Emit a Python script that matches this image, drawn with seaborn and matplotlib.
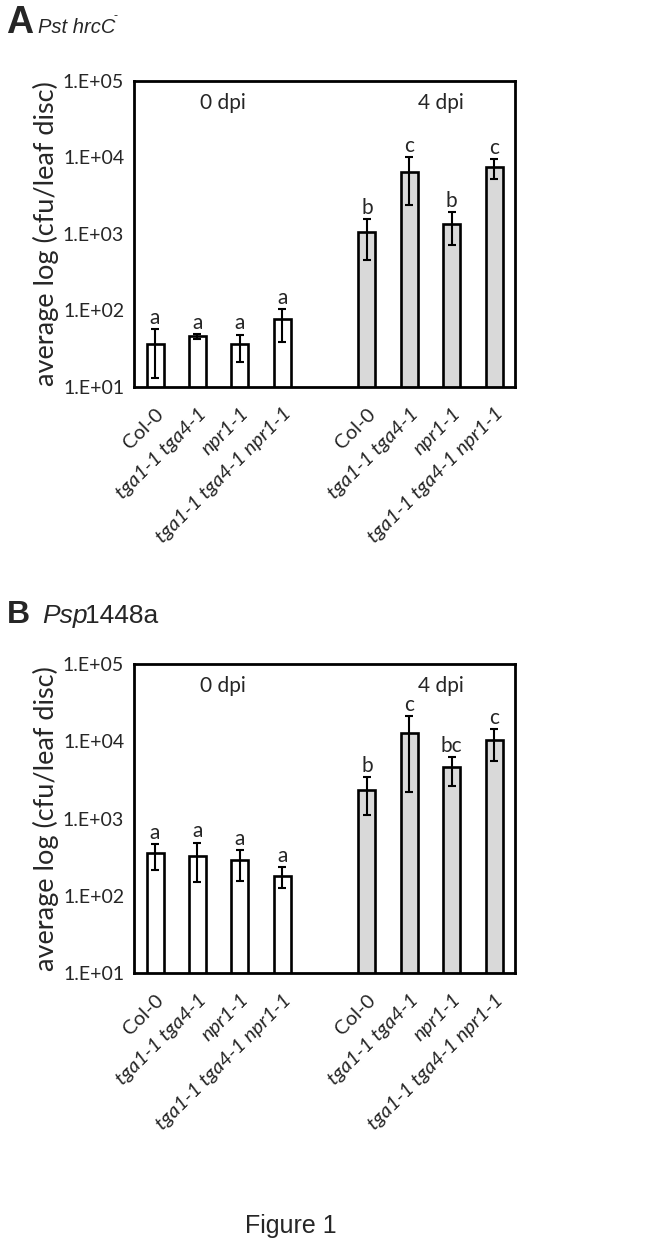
"""
    Bacterial growth in leaf discs, Figure 1 (panels A and B)
"""

import numpy as np
import pandas as pd
import seaborn as sns
import matplotlib.pyplot as plt
from matplotlib.ticker import FixedLocator, FuncFormatter, NullLocator


# DATA
genotypes = ["Col-0", "tga1-1 tga4-1", "npr1-1", "tga1-1 tga4-1 npr1-1"]
times = ["0 dpi", "4 dpi"]

# Panel A - Pst hrcC-  (0 dpi x4, then 4 dpi x4)
a_mean = [36, 46, 36, 77, 1050, 6400, 1350, 7580]
a_hi = [57, 49, 48, 103, 1570, 10000, 1940, 9460]
a_lo = [13, 42, 21.4, 39, 457, 2390, 718, 5190]
a_letters = ["a", "a", "a", "a", "b", "c", "b", "c"]

# Panel B - Psp1448a
b_mean = [361, 330, 290, 182, 2340, 12900, 4600, 10380]
b_hi = [464, 486, 391, 233, 3440, 21200, 6190, 14300]
b_lo = [215, 149, 157, 125, 1110, 2220, 2660, 5600]
b_letters = ["a", "a", "a", "a", "b", "c", "bc", "c"]

yticks = [1e1, 1e2, 1e3, 1e4, 1e5]

TICKFONT = "Lato"
TITLEFONT = "Liberation Sans"

# slots on the categorical axis: 4 genotypes, an empty gap, 4 genotypes
order = [times[0] + " " + g for g in genotypes] + ["gap"] + \
        [times[1] + " " + g for g in genotypes]


def makeFrame(mean, lo, hi, letters):
    rows = []
    for i, t in enumerate(times):
        for j, g in enumerate(genotypes):
            k = i * len(genotypes) + j
            rows.append({"slot": t + " " + g, "time": t, "genotype": g,
                         "cfu": mean[k], "lo": lo[k], "hi": hi[k],
                         "letter": letters[k]})
    return pd.DataFrame(rows)


def drawPanel(ax, df, xticks_marks):
    sns.barplot(data=df, x="slot", y="cfu", order=order, hue="time",
                hue_order=times, palette={"0 dpi": "white", "4 dpi": "#d9d9d9"},
                width=0.4, edgecolor="black", linewidth=1.9, dodge=False,
                legend=False, errorbar=None, ax=ax)
    ax.set_yscale("log")
    ax.set_ylim(1e1, 1e5)

    # error bars and significance letters
    pos = np.array([order.index(s) for s in df["slot"]])
    yerr = np.vstack([df["cfu"] - df["lo"], df["hi"] - df["cfu"]])
    ax.errorbar(pos, df["cfu"], yerr=yerr, fmt="none", ecolor="black",
                elinewidth=1.5, capsize=3.2, capthick=1.5, zorder=5)
    for x, top, lab in zip(pos, df["hi"], df["letter"]):
        ax.annotate(lab, (x, top), xytext=(0, 1.0), textcoords="offset points",
                    ha="center", va="bottom", fontsize=15, family=TICKFONT)

    # time point labels
    ax.text(1.6, 5.2e4, times[0], ha="center", va="center", fontsize=15,
            family=TICKFONT)
    ax.text(6.75, 5.2e4, times[1], ha="center", va="center", fontsize=15,
            family=TICKFONT)

    # y axis
    ax.yaxis.set_major_locator(FixedLocator(yticks))
    ax.yaxis.set_minor_locator(NullLocator())
    ax.yaxis.set_major_formatter(FuncFormatter(
        lambda v, p: "1.E+%02d" % int(round(np.log10(v)))))
    ax.tick_params(axis="y", which="major", length=5, width=1.6,
                   labelsize=14, direction="out", pad=2)
    for lab in ax.get_yticklabels():
        lab.set_family(TICKFONT)
    ax.set_ylabel("average log (cfu/leaf disc)", fontsize=19.5, family=TICKFONT,
                  labelpad=3)

    # x axis
    ax.set_xlim(-0.5, len(order) - 0.5)
    ax.set_xlabel("")
    ax.set_xticks(range(len(order)))
    ax.set_xticklabels(genotypes + [""] + genotypes, rotation=45, ha="right",
                       rotation_mode="anchor", fontsize=14.5, family=TICKFONT)
    for lab in ax.get_xticklabels():
        if lab.get_text() != "Col-0":
            lab.set_fontstyle("italic")
    ax.tick_params(axis="x", which="major", length=0, pad=13)
    if xticks_marks:
        ax.xaxis.set_minor_locator(FixedLocator(np.arange(-0.5, len(order), 1.0)))
        ax.tick_params(axis="x", which="minor", length=5, width=1.6,
                       direction="out")
    else:
        ax.xaxis.set_minor_locator(NullLocator())

    for s in ax.spines.values():
        s.set_visible(True)
        s.set_linewidth(2)
        s.set_color("black")


def plotFigure():
    sns.set_style("white")
    plt.rcParams["font.family"] = [TICKFONT, "DejaVu Sans"]

    fig = plt.figure(figsize=(6.53, 12.47), dpi=100)

    axA = fig.add_axes([0.205, 0.6897, 0.584, 0.2454])
    drawPanel(axA, makeFrame(a_mean, a_lo, a_hi, a_letters), False)

    axB = fig.add_axes([0.205, 0.2197, 0.584, 0.2478])
    drawPanel(axB, makeFrame(b_mean, b_lo, b_hi, b_letters), True)

    # panel headings
    fig.text(0.010, 0.9735, "A", fontsize=27, fontweight="bold",
             family=TITLEFONT, va="baseline")
    fig.text(0.058, 0.9735, "Pst hrcC", fontsize=14.5, fontstyle="italic",
             family=TITLEFONT, va="baseline")
    fig.text(0.174, 0.9845, "-", fontsize=9, family=TITLEFONT,
             va="baseline")
    fig.text(0.010, 0.5004, "B", fontsize=23, fontweight="bold",
             family=TITLEFONT, va="baseline")
    fig.text(0.064, 0.5004, "Psp", fontsize=19, fontstyle="italic",
             family=TITLEFONT, va="baseline")
    fig.text(0.1305, 0.5004, "1448a", fontsize=19, family=TITLEFONT,
             va="baseline")

    fig.text(0.446, 0.0112, "Figure 1", fontsize=18, family=TITLEFONT,
             ha="center", va="baseline")

    plt.savefig("out.png", dpi=100)


if __name__ == "__main__":
    plotFigure()
